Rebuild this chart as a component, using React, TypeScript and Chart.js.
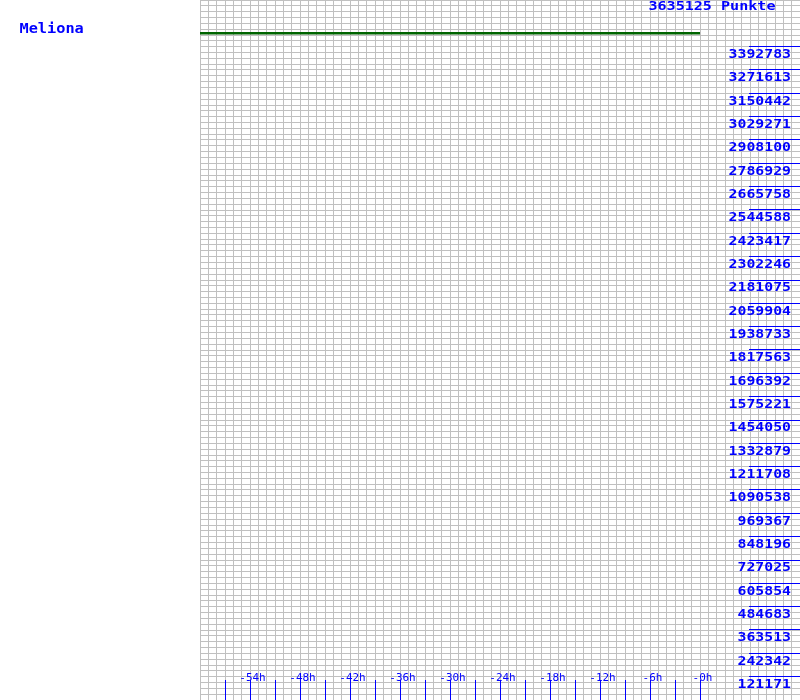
import { useEffect, useRef } from "react";
import { Chart, registerables } from "chart.js";

Chart.register(...registerables);

const playerName = "Meliona";
const maxPoints = 3635125;
const pointsUnit = "Punkte";
const historyHours = [-60, -54, -48, -42, -36, -30, -24, -18, -12, -6, 0];
const historyPoints = [
  3462024, 3462024, 3462024, 3462024, 3462024, 3462024, 3462024, 3462024, 3462024, 3462024, 3462024,
];
const yTickLabels = [
  "3392783", "3271613", "3150442", "3029271", "2908100", "2786929", "2665758",
  "2544588", "2423417", "2302246", "2181075", "2059904", "1938733", "1817563",
  "1696392", "1575221", "1454050", "1332879", "1211708", "1090538", "969367",
  "848196", "727025", "605854", "484683", "363513", "242342", "121171",
];
const xTickHours = [-57, -54, -51, -48, -45, -42, -39, -36, -33, -30, -27, -24, -21, -18, -15, -12, -9, -6, -3, 0];
const xTickLabels = ["-54h", "-48h", "-42h", "-36h", "-30h", "-24h", "-18h", "-12h", "-6h", "-0h"];
const xMin = -60;
const xMax = 12;
const ySubdivisions = 120;

const BLUE = "#0000ff";
const MONO = '"DejaVu Sans Mono", "Liberation Mono", monospace';

function drawScaledText(
  ctx: CanvasRenderingContext2D,
  text: string,
  x: number,
  y: number,
  font: string,
  sx: number,
  align: CanvasTextAlign
) {
  ctx.save();
  ctx.translate(x, y);
  ctx.scale(sx, 1);
  ctx.font = font;
  ctx.fillStyle = BLUE;
  ctx.textAlign = align;
  ctx.textBaseline = "alphabetic";
  ctx.fillText(text, 0, 0);
  ctx.restore();
}

const overlayPlugin = {
  id: "overlay",
  afterDraw(chart: any) {
    const ctx: CanvasRenderingContext2D = chart.ctx;
    const xs = chart.scales.x;
    const ys = chart.scales.y;
    const W = chart.width;
    const H = chart.height;

    drawScaledText(ctx, playerName, 19.5, 33, `bold 14px ${MONO}`, 1.09, "left");
    drawScaledText(ctx, `${maxPoints} ${pointsUnit}`, 775.5, 10, `bold 13px ${MONO}`, 1.16, "right");

    ctx.save();
    ctx.strokeStyle = BLUE;
    ctx.lineWidth = 1;
    for (const lab of yTickLabels) {
      const py = Math.floor(ys.getPixelForValue(Number(lab))) + 0.5;
      ctx.beginPath();
      ctx.moveTo(749, py);
      ctx.lineTo(W, py);
      ctx.stroke();
    }
    for (const h of xTickHours) {
      const px = Math.floor(xs.getPixelForValue(h)) + 0.5;
      ctx.beginPath();
      ctx.moveTo(px, 680);
      ctx.lineTo(px, H);
      ctx.stroke();
    }
    ctx.restore();

    for (const lab of yTickLabels) {
      const py = ys.getPixelForValue(Number(lab));
      drawScaledText(ctx, lab, 791, py + 11.4, `bold 13px ${MONO}`, 1.14, "right");
    }
    for (const lab of xTickLabels) {
      const px = xs.getPixelForValue(parseFloat(lab));
      drawScaledText(ctx, lab, px + 2.5, 681, `10px ${MONO}`, 1.1, "center");
    }
  },
};

export default function App() {
  const ref = useRef<HTMLCanvasElement | null>(null);

  useEffect(() => {
    if (!ref.current) return;
    const chart = new Chart(ref.current, {
      type: "line",
      data: {
        datasets: [
          {
            data: historyHours.map((h, i) => ({ x: h, y: historyPoints[i] })),
            borderColor: "#006400",
            borderWidth: 2.5,
            pointRadius: 0,
            tension: 0,
            fill: false,
          },
        ],
      },
      options: {
        animation: false,
        responsive: false,
        devicePixelRatio: 1,
        layout: { padding: { left: 200, top: 0, right: 0, bottom: 0 } },
        plugins: { legend: { display: false }, tooltip: { enabled: false }, title: { display: false } },
        scales: {
          x: {
            type: "linear",
            min: xMin,
            max: xMax,
            afterBuildTicks: (axis: any) => {
              const t = [];
              for (let v = xMin; v <= xMax; v++) t.push({ value: v });
              axis.ticks = t;
            },
            ticks: { display: false },
            grid: { color: "#c0c0c0", lineWidth: 1, drawTicks: false, tickLength: 0 },
            border: { display: false },
          },
          y: {
            type: "linear",
            min: 0,
            max: maxPoints,
            afterBuildTicks: (axis: any) => {
              const t = [];
              for (let i = 0; i <= ySubdivisions; i++) t.push({ value: (maxPoints * i) / ySubdivisions });
              axis.ticks = t;
            },
            ticks: { display: false },
            grid: { color: "#c0c0c0", lineWidth: 1, drawTicks: false, tickLength: 0 },
            border: { display: false },
          },
        },
      },
      plugins: [overlayPlugin],
    } as any);
    return () => chart.destroy();
  }, []);

  return (
    <canvas
      ref={ref}
      width={800}
      height={700}
      style={{ position: "fixed", left: 0, top: 0, width: 800, height: 700, background: "#ffffff" }}
    />
  );
}
